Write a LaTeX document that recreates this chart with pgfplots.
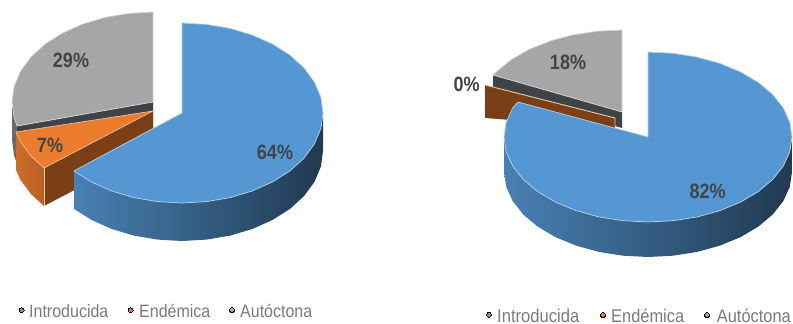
\documentclass[border=0pt]{standalone}
\usepackage{fontspec}
\setmainfont{Liberation Sans}
\usepackage{pgfplots}
\pgfplotsset{compat=1.18}
\definecolor{blueTop}{HTML}{5597D3}
\definecolor{blueEdge}{HTML}{B5D1EA}
\definecolor{orangeTop}{HTML}{EB7C2E}
\definecolor{orangeEdge}{HTML}{EFC8A8}
\definecolor{brownWall}{HTML}{7A3F14}
\definecolor{grayTop}{HTML}{A6A6A6}
\definecolor{grayEdge}{HTML}{D6D6D6}
\definecolor{grayWall}{HTML}{3E4347}
\definecolor{legendText}{HTML}{7A7A7A}
\definecolor{labelText}{HTML}{404548}
\newcommand{\pct}[2]{\node[font=\fontsize{18}{18}\selectfont\bfseries,text=labelText,yscale=1.15] at (axis cs:#1) {#2};}
\newcommand{\keytext}[3]{\node[anchor=west,inner sep=0pt,yscale=1.12,font=\fontsize{#3}{#3}\selectfont,text=legendText] at (axis cs:#1) {#2};}
\pgfplotsset{keymark/.style={only marks, mark=square*, mark size=2.5pt, mark options={draw=none, fill=#1, line width=0pt}}}
\begin{document}
\begin{tikzpicture}
\path[use as bounding box] (0pt,0pt) rectangle (793pt,324pt);
\begin{axis}[
  at={(0pt,0pt)}, anchor=south west,
  scale only axis, width=793pt, height=324pt,
  xmin=0, xmax=793, ymin=0, ymax=324, y dir=reverse,
  hide axis, clip=false, no markers,
]
%% ---------- first pie: 64 / 7 / 29 ----------
% Autóctona: outer wall, front wall, top face
\addplot[draw=none, fill=black!58] coordinates {(12,102)(14.1,117.6)(17.1,126)(17.1,164)(14.1,155.6)(12,140)} -- cycle;
\addplot[draw=none, fill=grayWall] coordinates {(153,102)(17.1,126)(17.1,164)(153,140)} -- cycle;
\addplot[draw=grayEdge, line width=0.7pt, fill=grayTop] coordinates {
 (153,102)(153,12)(128.5,13.4)(104.8,17.4)(82.5,24.1)(62.4,33.1)(45,44.1)(30.9,57)(20.5,71.2)(14.1,86.4)(12,102)(14.1,117.6)(17.1,126)} -- cycle;
% Endémica: walls and top face
\addplot[draw=none, left color=orangeTop!88!black, right color=orangeTop!78!black] coordinates {
 (16,132)(20.5,141.8)(30.9,156)(44,168)(44,206)(30.9,194)(20.5,179.8)(16,170)} -- cycle;
\addplot[draw=none, fill=brownWall] coordinates {(153,111)(44,168)(44,206)(153,149)} -- cycle;
\addplot[draw=orangeEdge, line width=0.6pt] coordinates {(44,168)(44,206)};
\addplot[draw=orangeEdge, line width=0.6pt, fill=orangeTop] coordinates {
 (153,111)(16,132)(20.5,141.8)(30.9,156)(44,168)} -- cycle;
% Introducida: curved wall and top face
\addplot[draw=none, left color=blueTop!85!black, middle color=blueTop!55!black, right color=blueTop!38!black] coordinates {
 (323,113)(320.9,128.6)(314.5,143.8)(304.1,158)(290,170.9)(272.6,181.9)(252.5,190.9)(230.2,197.6)(206.5,201.6)(182,203)(157.5,201.6)(133.8,197.6)(111.5,190.9)(91.4,181.9)(74,170.9)
 (74,208.9)(91.4,219.9)(111.5,228.9)(133.8,235.6)(157.5,239.6)(182,241)(206.5,239.6)(230.2,235.6)(252.5,228.9)(272.6,219.9)(290,208.9)(304.1,196)(314.5,181.8)(320.9,166.6)(323,151)} -- cycle;
\addplot[draw=blueEdge, line width=0.7pt, fill=blueTop] coordinates {
 (182,113)(182,23)(206.5,24.4)(230.2,28.4)(252.5,35.1)(272.6,44.1)(290,55.1)(304.1,68)(314.5,82.2)(320.9,97.4)(323,113)(320.9,128.6)(314.5,143.8)(304.1,158)(290,170.9)(272.6,181.9)(252.5,190.9)(230.2,197.6)(206.5,201.6)(182,203)(157.5,201.6)(133.8,197.6)(111.5,190.9)(91.4,181.9)(74,170.9)} -- cycle;
\pct{71,60}{29\%}
\pct{50,145}{7\%}
\pct{275,152}{64\%}
% key
\addplot[keymark=blueTop] coordinates {(21.7,310)};
\addplot[keymark=orangeTop] coordinates {(130.7,310)};
\addplot[keymark=grayTop] coordinates {(232,310)};
\keytext{29,311}{Introducida}{16}
\keytext{139,311}{Endémica}{16}
\keytext{240,311}{Autóctona}{16}
%% ---------- second pie: 82 / 0 / 18 ----------
% Autóctona
\addplot[draw=none, fill=grayWall] coordinates {(493,75)(622,112)(622,128)(493,91)} -- cycle;
\addplot[draw=grayEdge, line width=0.7pt, fill=grayTop] coordinates {
 (622,112)(622,30)(597,31.2)(572.8,34.9)(550,41)(529.4,49.2)(511.7,59.3)(497.3,71)(493,75)} -- cycle;
% Endémica: a zero-width slice, only its wall shows
\addplot[draw=none, fill=brownWall] coordinates {(485,85)(615,118)(615,128)(485,118)} -- cycle;
\addplot[draw=orangeEdge, line width=0.9pt] coordinates {(485,85)(615,118)(615,127)};
% Introducida
\addplot[draw=none, left color=blueTop!85!black, middle color=blueTop!55!black, right color=blueTop!38!black] coordinates {
 (792,137)(789.8,151.8)(783.3,166.1)(772.7,179.5)(758.3,191.6)(740.6,202.1)(720,210.6)(697.2,216.9)(673,220.7)(648,222)(623,220.7)(598.8,216.9)(576,210.6)(555.4,202.1)(537.7,191.6)(523.3,179.5)(512.7,166.1)(506.2,151.8)(504,137)
 (504,172)(506.2,186.8)(512.7,201.1)(523.3,214.5)(537.7,226.6)(555.4,237.1)(576,245.6)(598.8,251.9)(623,255.7)(648,257)(673,255.7)(697.2,251.9)(720,245.6)(740.6,237.1)(758.3,226.6)(772.7,214.5)(783.3,201.1)(789.8,186.8)(792,172)} -- cycle;
\addplot[draw=blueEdge, line width=0.7pt, fill=blueTop] coordinates {
 (648,137)(648,52)(673,53.3)(697.2,57.1)(720,63.4)(740.6,71.9)(758.3,82.4)(772.7,94.5)(783.3,107.9)(789.8,122.2)(792,137)(789.8,151.8)(783.3,166.1)(772.7,179.5)(758.3,191.6)(740.6,202.1)(720,210.6)(697.2,216.9)(673,220.7)(648,222)(623,220.7)(598.8,216.9)(576,210.6)(555.4,202.1)(537.7,191.6)(523.3,179.5)(512.7,166.1)(506.2,151.8)(504,137)(506.2,122.2)(512.7,107.9)(518,102)} -- cycle;
\pct{568,62}{18\%}
\pct{466.7,84}{0\%}
\pct{707.7,191}{82\%}
% key
\addplot[keymark=blueTop] coordinates {(489,314.5)};
\addplot[keymark=orangeTop] coordinates {(603,315)};
\addplot[keymark=grayTop] coordinates {(707,315)};
\keytext{497,315.5}{Introducida}{16.6}
\keytext{611,315.5}{Endémica}{16.4}
\keytext{716.7,315.5}{Autóctona}{16.4}
\end{axis}
\end{tikzpicture}
\end{document}
